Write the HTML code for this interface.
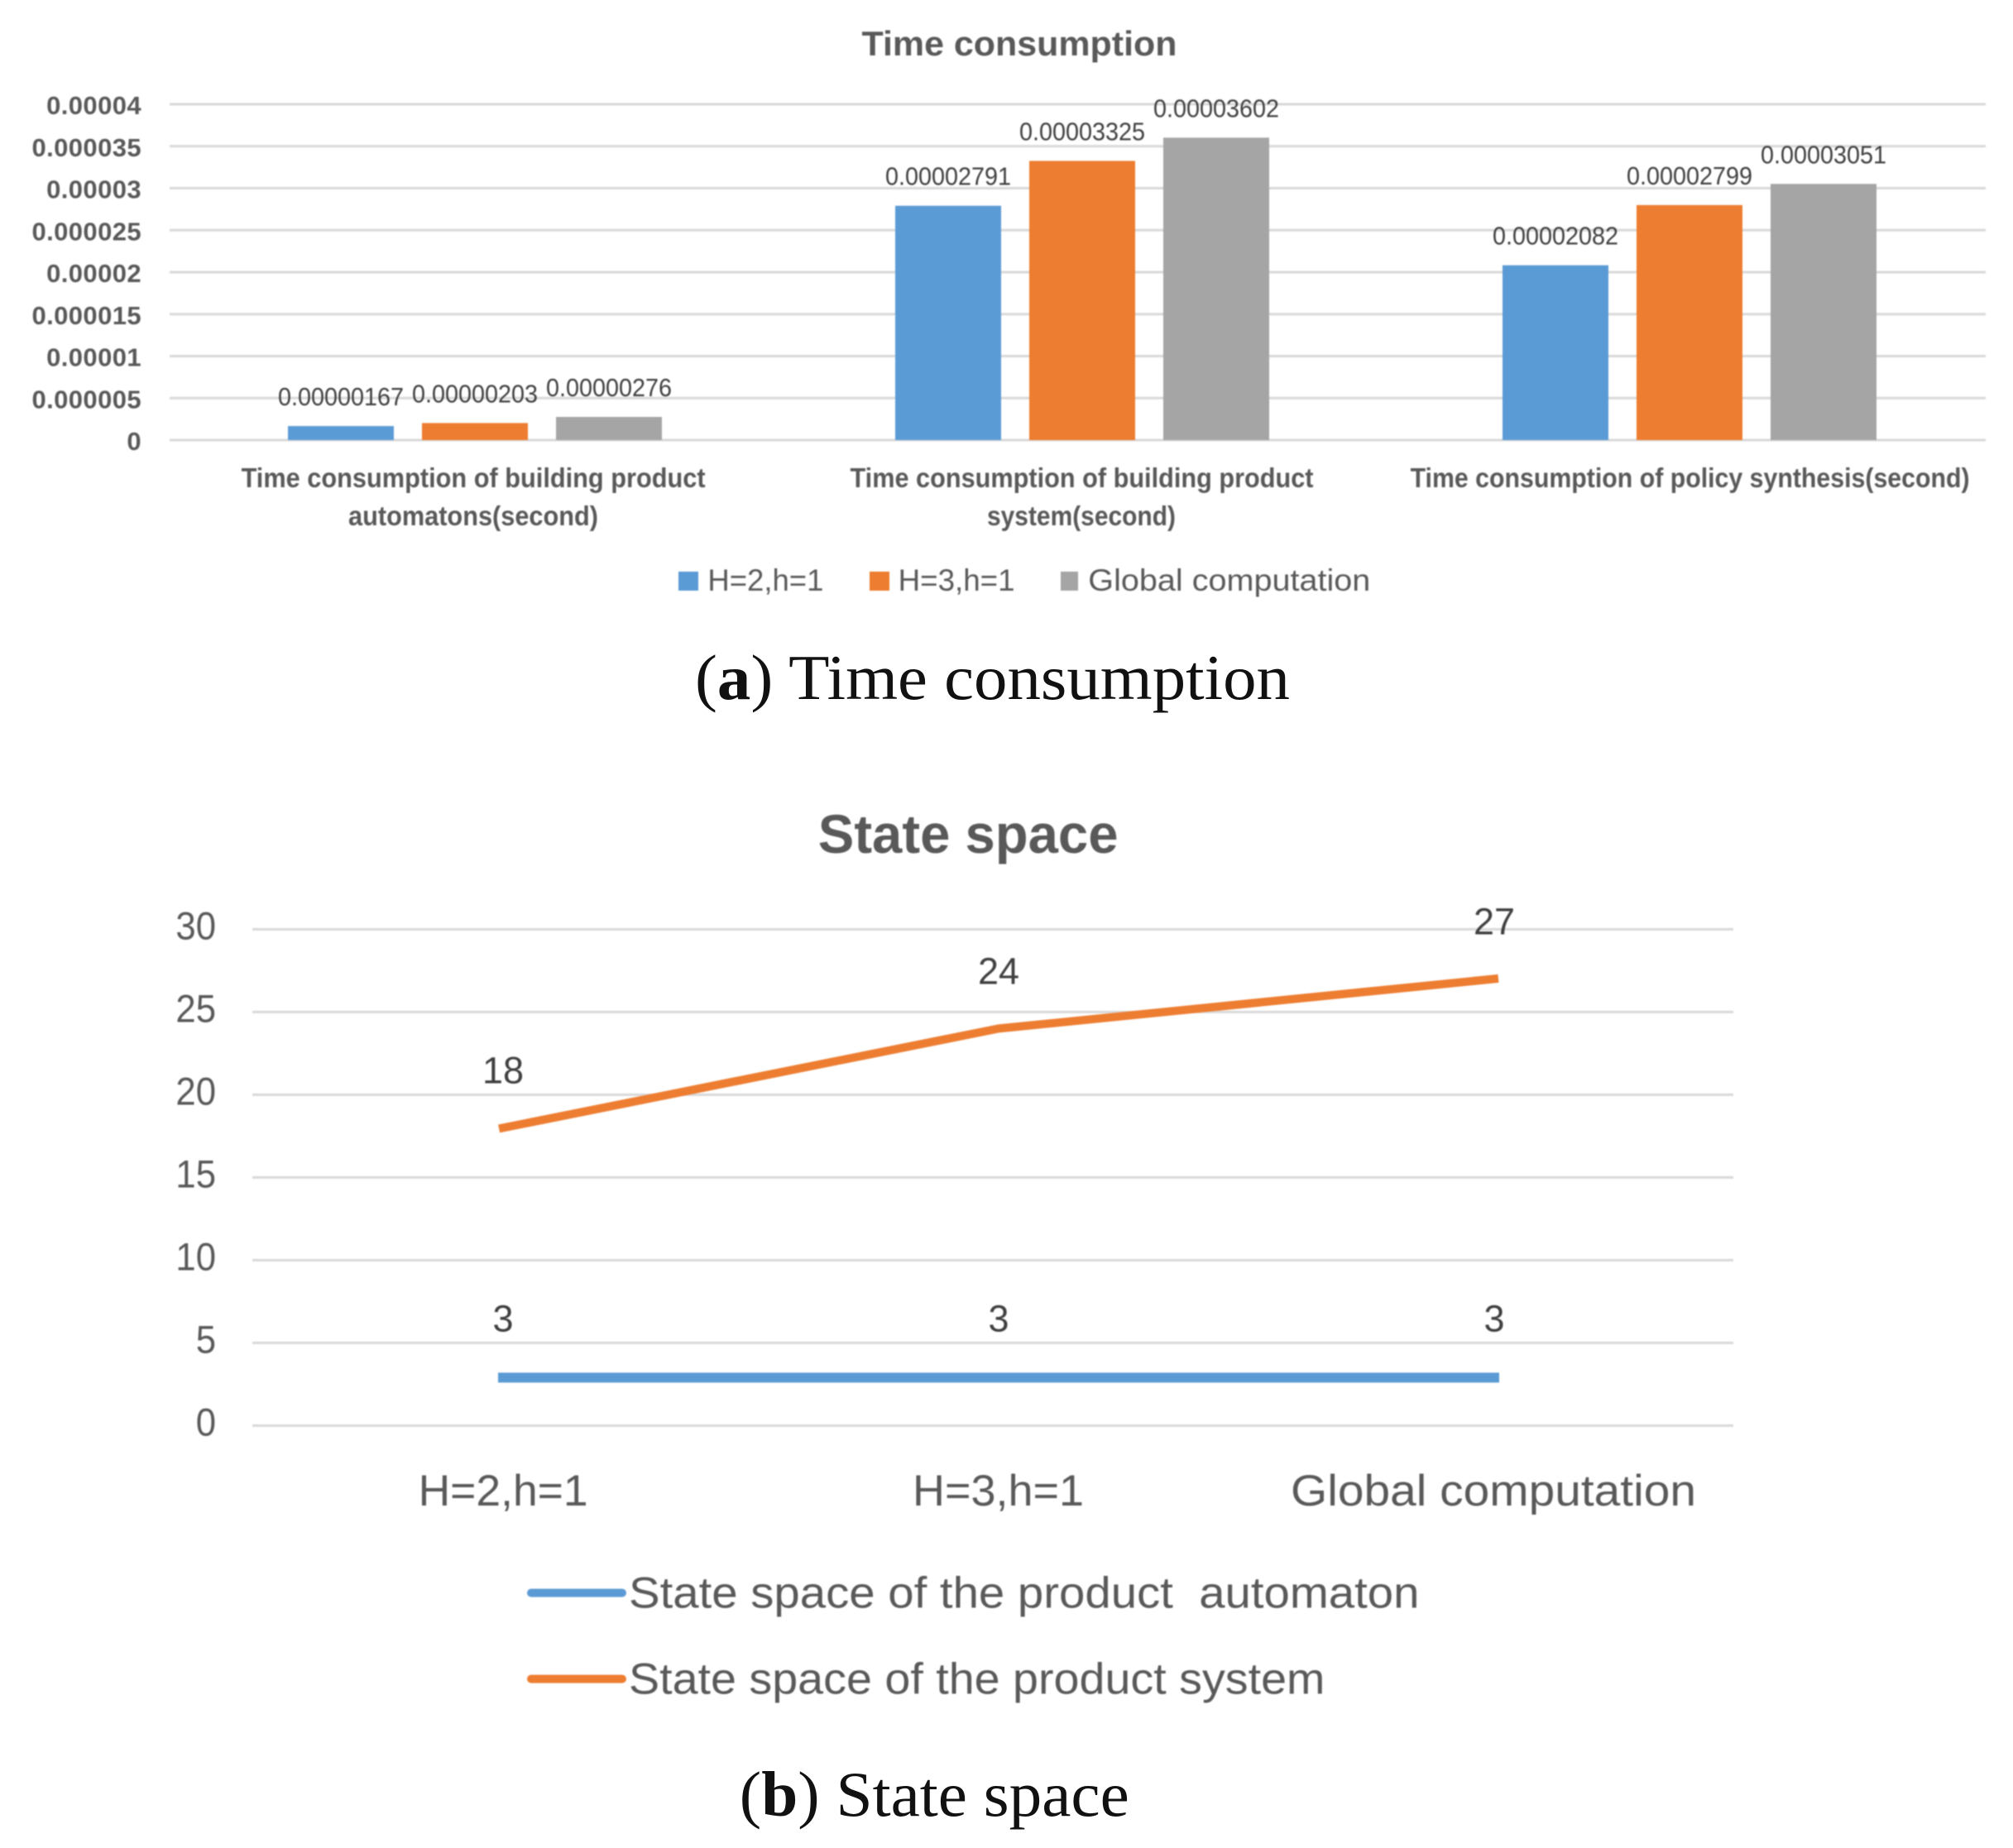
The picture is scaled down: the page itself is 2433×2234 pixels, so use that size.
<!DOCTYPE html>
<html lang="en">
<head>
<meta charset="utf-8">
<title>Time consumption and state space charts</title>
<style>
html,body{margin:0;padding:0;background:#fff}
svg{display:block}
text{font-family:"Liberation Sans",sans-serif}
#chartA,#chartB{filter:blur(0.7px)}
.serif{font-family:"Liberation Serif",serif;fill:#111}
.grid{stroke:#d9d9d9;stroke-width:3}
.tickA{font-size:31px;font-weight:bold;fill:#595959;letter-spacing:.4px}
.valA{font-size:31px;fill:#404040}
.catA{font-size:33px;font-weight:bold;fill:#595959}
.legA{font-size:37px;fill:#595959}
.tickB{font-size:47px;fill:#595959}
.valB{font-size:45px;fill:#404040}
.catB{font-size:53px;fill:#595959}
</style>
</head>
<body>
<svg id="root" xmlns="http://www.w3.org/2000/svg" width="2433" height="2234" viewBox="0 0 2433 2234">
  <rect x="0" y="0" width="2433" height="2234" fill="#fff"/>

  <g id="chartA">
    <text x="1041.5" y="67" font-size="42" font-weight="bold" fill="#595959" textLength="381" lengthAdjust="spacingAndGlyphs">Time consumption</text>
    <g id="gridA"></g>
    <g id="ticksA"></g>
    <g id="barsA"></g>
    <g id="valsA"></g>
    <g>
      <text class="catA" x="291.6" y="589" textLength="561" lengthAdjust="spacingAndGlyphs">Time consumption of building product</text>
      <text class="catA" x="421" y="635" textLength="302" lengthAdjust="spacingAndGlyphs">automatons(second)</text>
      <text class="catA" x="1027.5" y="589" textLength="560" lengthAdjust="spacingAndGlyphs">Time consumption of building product</text>
      <text class="catA" x="1193" y="635" textLength="228" lengthAdjust="spacingAndGlyphs">system(second)</text>
      <text class="catA" x="1704.6" y="589" textLength="676" lengthAdjust="spacingAndGlyphs">Time consumption of policy synthesis(second)</text>
    </g>
    <g>
      <g>
        <rect x="820" y="691" width="24" height="23" fill="#5b9bd5"/>
        <text class="legA" x="855.4" y="714" textLength="140" lengthAdjust="spacingAndGlyphs">H=2,h=1</text>
      </g>
      <g>
        <rect x="1051" y="691" width="24" height="23" fill="#ed7d31"/>
        <text class="legA" x="1085.6" y="714" textLength="141" lengthAdjust="spacingAndGlyphs">H=3,h=1</text>
      </g>
      <g>
        <rect x="1282" y="691" width="21" height="23" fill="#a5a5a5"/>
        <text class="legA" x="1315.3" y="714" textLength="341" lengthAdjust="spacingAndGlyphs">Global computation</text>
      </g>
    </g>
  </g>
  <text class="serif" x="840" y="845" font-size="77" textLength="719" lengthAdjust="spacingAndGlyphs">(<tspan font-weight="bold">a</tspan>) Time consumption</text>

  <g id="chartB">
    <text x="988.8" y="1031" font-size="66" font-weight="bold" fill="#595959" textLength="362.7" lengthAdjust="spacingAndGlyphs">State space</text>
    <g id="gridB"></g>
    <g id="ticksB"></g>
    <g id="linesB"></g>
    <g id="valsB"></g>
    <g>
      <text class="catB" x="505.6" y="1820" textLength="205" lengthAdjust="spacingAndGlyphs">H=2,h=1</text>
      <text class="catB" x="1103" y="1820" textLength="207" lengthAdjust="spacingAndGlyphs">H=3,h=1</text>
      <text class="catB" x="1560" y="1820" textLength="490" lengthAdjust="spacingAndGlyphs">Global computation</text>
    </g>
    <g>
      <g>
        <line x1="642" y1="1925.6" x2="752" y2="1925.6" stroke="#5b9bd5" stroke-width="10" stroke-linecap="round"/>
        <text class="catB" x="760" y="1943.6" textLength="955.5" lengthAdjust="spacingAndGlyphs" xml:space="preserve">State space of the product  automaton</text>
      </g>
      <g>
        <line x1="642" y1="2029.6" x2="752" y2="2029.6" stroke="#ed7d31" stroke-width="10" stroke-linecap="round"/>
        <text class="catB" x="760" y="2047.3" textLength="841.4" lengthAdjust="spacingAndGlyphs">State space of the product system</text>
      </g>
    </g>
  </g>
  <text class="serif" x="893.8" y="2195" font-size="77" textLength="471" lengthAdjust="spacingAndGlyphs">(<tspan font-weight="bold">b</tspan>) State space</text>
</svg>

<script>
// ----- Chart A data -----
const categoriesA = ['building product automatons', 'building product system', 'policy synthesis'];
const seriesNamesA = ['H=2,h=1', 'H=3,h=1', 'Global computation'];
const seriesH2 = [0.00000167, 0.00002791, 0.00002082];
const seriesH3 = [0.00000203, 0.00003325, 0.00002799];
const seriesGlobal = [0.00000276, 0.00003602, 0.00003051];
const tickLabelsA = ['0', '0.000005', '0.00001', '0.000015', '0.00002', '0.000025', '0.00003', '0.000035', '0.00004'];

// ----- Chart B data -----
const categoriesB = ['H=2,h=1', 'H=3,h=1', 'Global computation'];
const stateAutomaton = [3, 3, 3];
const stateSystem = [18, 24, 27];
const tickLabelsB = ['0', '5', '10', '15', '20', '25', '30'];

const NS = 'http://www.w3.org/2000/svg';
function make(tag, parent) {
  const el = document.createElementNS(NS, tag);
  parent.appendChild(el);
  return el;
}
function makeText(parent, x, y, str, cls, anchor) {
  const t = make('text', parent);
  t.setAttribute('x', x);
  t.setAttribute('y', y);
  t.setAttribute('class', cls);
  t.setAttribute('text-anchor', anchor);
  t.textContent = str;
  return t;
}

// ----- Chart A axes -----
const yA = v => 532 - (v / 0.00004) * 406;
const xA = i => 574 + i * 734;
const barWidth = 128;
const barPitch = 162;
const valueLabelWidth = 152;
const colorsA = ['#5b9bd5', '#ed7d31', '#a5a5a5'];
const allSeriesA = [seriesH2, seriesH3, seriesGlobal];
const slugsA = ['h2', 'h3', 'global'];

const gridA = document.getElementById('gridA');
const ticksA = document.getElementById('ticksA');
tickLabelsA.forEach(label => {
  const v = Number(label);
  const line = make('line', gridA);
  line.setAttribute('x1', 205);
  line.setAttribute('x2', 2400);
  line.setAttribute('y1', yA(v));
  line.setAttribute('y2', yA(v));
  line.setAttribute('class', 'grid');
  
  
  const t = makeText(ticksA, 171, yA(v) + 12, label, 'tickA', 'end');
  
  
});

const barsA = document.getElementById('barsA');
const valsA = document.getElementById('valsA');
allSeriesA.forEach((series, s) => {
  series.forEach((v, i) => {
    const cx = xA(i) + (s - 1) * barPitch;
    const bar = make('rect', barsA);
    bar.setAttribute('x', cx - barWidth / 2);
    bar.setAttribute('y', yA(v));
    bar.setAttribute('width', barWidth);
    bar.setAttribute('height', yA(0) - yA(v));
    bar.setAttribute('fill', colorsA[s]);
    
    
    const t = makeText(valsA, cx, yA(v) - 25, v.toFixed(8), 'valA', 'middle');
    t.setAttribute('textLength', valueLabelWidth);
    t.setAttribute('lengthAdjust', 'spacingAndGlyphs');
    
    
  });
});

// ----- Chart B axes -----
const yB = v => 1723.4 - v * 20;
const xB = i => 608 + i * 599;

const gridB = document.getElementById('gridB');
const ticksB = document.getElementById('ticksB');
tickLabelsB.forEach(label => {
  const v = Number(label);
  const line = make('line', gridB);
  line.setAttribute('x1', 305);
  line.setAttribute('x2', 2095);
  line.setAttribute('y1', yB(v));
  line.setAttribute('y2', yB(v));
  line.setAttribute('class', 'grid');
  
  
  const t = makeText(ticksB, 261, yB(v) + 12, label, 'tickB', 'end');
  t.setAttribute('textLength', label.length * 24.3);
  t.setAttribute('lengthAdjust', 'spacingAndGlyphs');
  
  
});

const linesB = document.getElementById('linesB');
const valsB = document.getElementById('valsB');

const automatonPath = make('path', linesB);
automatonPath.setAttribute('d', stateAutomaton.map((v, i) => (i ? 'L' : 'M') + xB(i) + ' ' + yB(v)).join(' '));
automatonPath.setAttribute('transform', 'translate(0 2)');
automatonPath.setAttribute('fill', 'none');
automatonPath.setAttribute('stroke', '#5b9bd5');
automatonPath.setAttribute('stroke-width', 12);
automatonPath.setAttribute('stroke-linecap', 'square');



const systemPath = make('path', linesB);
systemPath.setAttribute('d', stateSystem.map((v, i) => (i ? 'L' : 'M') + xB(i) + ' ' + yB(v)).join(' '));
systemPath.setAttribute('fill', 'none');
systemPath.setAttribute('stroke', '#ed7d31');
systemPath.setAttribute('stroke-width', 10);
systemPath.setAttribute('stroke-linecap', 'square');
systemPath.setAttribute('stroke-linejoin', 'round');



stateAutomaton.forEach((v, i) => {
  const t = makeText(valsB, xB(i), yB(v) - 54, String(v), 'valB', 'middle');
  
  
});
stateSystem.forEach((v, i) => {
  const t = makeText(valsB, xB(i), yB(v) - 54, String(v), 'valB', 'middle');
  
  
});
</script>
</body>
</html>
